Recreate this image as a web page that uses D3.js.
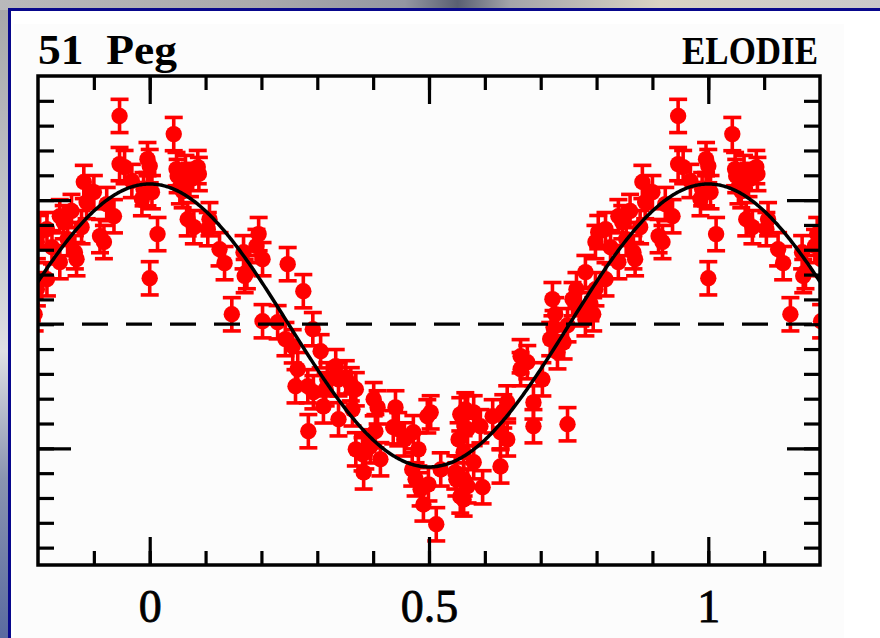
<!DOCTYPE html>
<html>
<head>
<meta charset="utf-8">
<script src="https://cdn.jsdelivr.net/npm/d3@7"></script>
<style>
  html, body { margin: 0; padding: 0; overflow: hidden; background: #fff; }
  svg { display: block; }
</style>
</head>
<body>
<svg id="chart" width="880" height="638"></svg>
<script>
// 51 Peg radial velocities (m/s, relative to the systemic velocity), folded on the orbital phase
const phase = [
  0.996, 0.000, 0.996, 0.004, 0.014, 0.000, 0.043, 0.050, 0.064, 0.086,
  0.088, 0.068, 0.079, 0.104, 0.125, 0.134, 0.054, 0.059, 0.107, 0.168,
  0.170, 0.147, 0.174, 0.048, 0.072, 0.195, 0.191, 0.202, 0.202, 0.247,
  0.275, 0.229, 0.243, 0.292, 0.256, 0.306, 0.265, 0.261, 0.283, 0.293,
  0.315, 0.333, 0.338, 0.351, 0.369, 0.311, 0.338, 0.284, 0.369, 0.381,
  0.401, 0.318, 0.360, 0.363, 0.408, 0.440, 0.497, 0.556, 0.569, 0.404,
  0.436, 0.472, 0.481, 0.386, 0.395, 0.383, 0.413, 0.476, 0.485, 0.513,
  0.547, 0.556, 0.562, 0.553, 0.456, 0.445, 0.470, 0.490, 0.499, 0.521,
  0.549, 0.503, 0.717, 0.730, 0.664, 0.664, 0.676, 0.703, 0.687, 0.687,
  0.748, 0.640, 0.633, 0.614, 0.580, 0.565, 0.569, 0.592, 0.628, 0.640,
  0.562, 0.580, 0.628, 0.596, 0.569, 0.562, 0.721, 0.726, 0.723, 0.741,
  0.748, 0.757, 0.764, 0.771, 0.780, 0.789, 0.794, 0.946, 0.946, 0.955,
  0.882, 0.900, 0.887, 0.839, 0.846, 0.816, 0.803, 0.798, 0.936, 0.911,
  0.918, 0.866, 0.869, 0.839, 0.816, 0.798, 0.989, 0.986, 0.780, 0.825,
  0.853, 0.878, 0.860, 0.968, 0.923
];
const velocity = [
  66.5, 63.7, 54.4, 53.2, 36.3, 18.5, 76.6, 59.7, 61.3, 63.3,
  60.5, 42.3, 39.1, 38.3, 30.2, 24.6, 55.2, 53.6, 42.3, 29.0,
  19.4, 4.0, 21.0, 62.5, 58.1, 36.3, 31.5, 26.2, 1.2, 24.2,
  13.3, 0.8, -6.0, -2.0, -8.9, -10.9, -18.1, -25.0, -25.0, -27.4,
  -26.2, -16.9, -22.2, -21.4, -26.2, -33.1, -38.3, -43.1, -50.4, -52.4,
  -30.2, -22.2, -24.2, -34.3, -33.5, -33.5, -37.1, -36.3, -35.5, -43.1,
  -41.5, -43.5, -50.4, -51.6, -49.2, -59.7, -54.4, -62.5, -66.5, -80.6,
  -59.7, -69.4, -62.5, -46.4, -46.4, -42.3, -58.5, -72.6, -64.5, -58.5,
  -62.5, -35.5, -6.0, -11.3, -12.9, -18.1, -15.3, -22.2, -31.5, -41.1,
  -40.3, -31.5, -35.1, -37.1, -35.5, -34.3, -42.3, -41.1, -43.5, -46.4,
  -51.6, -55.6, -57.3, -65.7, -65.3, -70.6, 10.1, 4.0, -1.2, -7.3,
  -0.4, 10.1, 14.1, 6.0, 2.0, 8.1, 4.0, 83.9, 64.5, 63.3,
  57.3, 53.2, 49.2, 43.5, 41.1, 38.3, 37.1, 33.1, 43.5, 35.5,
  33.1, 29.0, 26.2, 25.0, 18.1, 14.1, 54.4, 50.4, 21.0, 31.0,
  34.3, 39.1, 45.6, 57.7, 48.4
];
const velocityError = 6.7;          // typical 1-sigma uncertainty, m/s

// Circular-orbit fit: v = gamma + K cos(2 pi phase)
const fitK = 57;
const fitGamma = -0.5;

// Axis ticks
const phaseMinorTicks = [-0.1, 0, 0.1, 0.2, 0.3, 0.4, 0.5, 0.6, 0.7, 0.8, 0.9, 1, 1.1];
const phaseMajorTicks = [0, 0.5, 1];
const phaseTickLabels = ["0", "0.5", "1"];
const velocityMinorTicks = [-90, -80, -70, -60, -50, -40, -30, -20, -10, 0, 10, 20, 30, 40, 50, 60, 70, 80, 90];
const velocityMajorTicks = [-50, 50];

const starName = "51 Peg";
const instrument = "ELODIE";

// ---------------------------------------------------------------
const W = 880, H = 638;
const plot = { left: 38, right: 820, top: 76, bottom: 565 };
const serif = "'Liberation Serif', 'DejaVu Serif', serif";

const svg = d3.select("#chart");
const defs = svg.append("defs");

// slide backdrop
const gTop = defs.append("linearGradient").attr("id", "bgTop");
[["0%", "#b9b9bb"], ["30%", "#a9a9ac"], ["46%", "#9497a2"], ["52%", "#5a6072"],
 ["58%", "#a4a4aa"], ["75%", "#d9d3c4"], ["100%", "#c9c9cb"]]
  .forEach(([o, c]) => gTop.append("stop").attr("offset", o).attr("stop-color", c));
const gLeft = defs.append("linearGradient").attr("id", "bgLeft")
  .attr("x1", 0).attr("y1", 0).attr("x2", 0).attr("y2", 1);
[["0%", "#a6a6a8"], ["35%", "#c4c6cc"], ["55%", "#dfe0e4"], ["75%", "#8a94b0"], ["100%", "#5a6aa0"]]
  .forEach(([o, c]) => gLeft.append("stop").attr("offset", o).attr("stop-color", c));

svg.append("rect").attr("width", W).attr("height", H).attr("fill", "url(#bgLeft)");
svg.append("rect").attr("width", W).attr("height", 10).attr("fill", "url(#bgTop)");

// white panel with dark blue border
svg.append("rect")
  .attr("x", 9.5).attr("y", 9.5).attr("width", W + 20).attr("height", H + 20)
  .attr("fill", "#ffffff").attr("stroke", "#08088c").attr("stroke-width", 3);
svg.append("rect")
  .attr("x", 14).attr("y", 24).attr("width", 830).attr("height", H)
  .attr("fill", "#fcfcfc");

// scales
const x = d3.scaleLinear().domain([-0.2, 1.2]).range([plot.left, plot.right]);
const y = d3.scaleLinear().domain([-97, 100]).range([plot.bottom, plot.top]);

const clip = defs.append("clipPath").attr("id", "plotClip");
clip.append("rect")
  .attr("x", plot.left).attr("y", plot.top)
  .attr("width", plot.right - plot.left).attr("height", plot.bottom - plot.top);

// each measurement is repeated one cycle earlier and later across the phase window
const points = [];
phase.forEach((p, i) => {
  [-1, 0, 1].forEach(shift => {
    const ph = p + shift;
    if (ph >= -0.215 && ph <= 1.215) points.push({ ph, v: velocity[i] });
  });
});

const red = "#ff0000";
const gData = svg.append("g").attr("clip-path", "url(#plotClip)");
const capHalf = 9;

const bars = gData.append("g").attr("stroke", red).attr("stroke-width", 3.6).attr("fill", "none");
points.forEach(d => {
  const cx = x(d.ph), y1 = y(d.v + velocityError), y0 = y(d.v - velocityError);
  bars.append("line").attr("x1", cx).attr("x2", cx).attr("y1", y1).attr("y2", y0);
  bars.append("line").attr("x1", cx - capHalf).attr("x2", cx + capHalf).attr("y1", y1).attr("y2", y1);
  bars.append("line").attr("x1", cx - capHalf).attr("x2", cx + capHalf).attr("y1", y0).attr("y2", y0);
});
gData.append("g").selectAll("circle").data(points).join("circle")
  .attr("cx", d => x(d.ph)).attr("cy", d => y(d.v))
  .attr("r", 8.2).attr("fill", red);

// systemic velocity
gData.append("line")
  .attr("x1", plot.left).attr("x2", plot.right)
  .attr("y1", y(0)).attr("y2", y(0))
  .attr("stroke", "#000").attr("stroke-width", 3.2)
  .attr("stroke-dasharray", "26 18");

// orbital fit
const fitPhase = d3.range(-0.2, 1.2001, 0.002);
const line = d3.line()
  .x(p => x(p))
  .y(p => y(fitGamma + fitK * Math.cos(2 * Math.PI * p)));
gData.append("path").datum(fitPhase)
  .attr("d", line).attr("fill", "none")
  .attr("stroke", "#000").attr("stroke-width", 3.5);

// axes: ticks point into the frame on all four sides
function styleAxis(g) {
  g.select(".domain").remove();
  g.selectAll(".tick line").attr("stroke", "#000").attr("stroke-width", 3.2);
}
const minorLen = 14, majorLen = 28;

svg.append("g").attr("transform", `translate(0,${plot.bottom})`)
  .call(d3.axisBottom(x).tickValues(phaseMinorTicks).tickSize(-minorLen).tickFormat(""))
  .call(styleAxis);
svg.append("g").attr("class", "xlabels").attr("transform", `translate(0,${plot.bottom})`)
  .call(d3.axisBottom(x).tickValues(phaseMajorTicks).tickSize(-majorLen).tickPadding(24)
    .tickFormat((d, i) => phaseTickLabels[i]))
  .call(styleAxis)
  .call(g => g.selectAll("text")
    .attr("fill", "#000")
    .attr("stroke", "#000").attr("stroke-width", 0.8)
    .attr("font-family", serif)
    .attr("font-size", 46));

svg.append("g").attr("transform", `translate(0,${plot.top})`)
  .call(d3.axisTop(x).tickValues(phaseMinorTicks).tickSize(-minorLen).tickFormat(""))
  .call(styleAxis);
svg.append("g").attr("transform", `translate(0,${plot.top})`)
  .call(d3.axisTop(x).tickValues(phaseMajorTicks).tickSize(-majorLen).tickFormat(""))
  .call(styleAxis);

svg.append("g").attr("transform", `translate(${plot.left},0)`)
  .call(d3.axisLeft(y).tickValues(velocityMinorTicks).tickSize(-16).tickFormat(""))
  .call(styleAxis);
svg.append("g").attr("transform", `translate(${plot.left},0)`)
  .call(d3.axisLeft(y).tickValues(velocityMajorTicks).tickSize(-33).tickFormat(""))
  .call(styleAxis);
svg.append("g").attr("transform", `translate(${plot.right},0)`)
  .call(d3.axisRight(y).tickValues(velocityMinorTicks).tickSize(-16).tickFormat(""))
  .call(styleAxis);
svg.append("g").attr("transform", `translate(${plot.right},0)`)
  .call(d3.axisRight(y).tickValues(velocityMajorTicks).tickSize(-33).tickFormat(""))
  .call(styleAxis);

// frame
svg.append("rect")
  .attr("x", plot.left).attr("y", plot.top)
  .attr("width", plot.right - plot.left).attr("height", plot.bottom - plot.top)
  .attr("fill", "none").attr("stroke", "#000").attr("stroke-width", 3.5);

// header labels
svg.append("text")
  .attr("x", plot.left).attr("y", 64)
  .attr("font-family", serif)
  .attr("font-weight", "bold").attr("font-size", 42)
  .attr("textLength", 139).attr("lengthAdjust", "spacingAndGlyphs")
  .attr("fill", "#000")
  .text(starName.replace(" ", "\u00a0\u00a0"));
svg.append("text")
  .attr("x", plot.right - 2).attr("y", 64).attr("text-anchor", "end")
  .attr("font-family", serif)
  .attr("font-weight", "bold").attr("font-size", 39)
  .attr("textLength", 136).attr("lengthAdjust", "spacingAndGlyphs")
  .attr("fill", "#000")
  .text(instrument);
</script>
</body>
</html>
